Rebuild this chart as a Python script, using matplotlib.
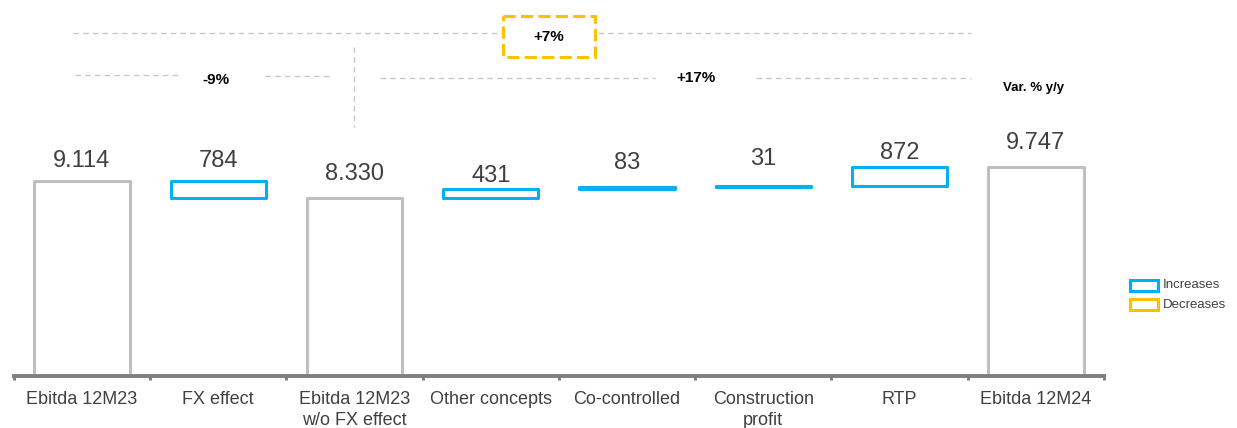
import matplotlib
matplotlib.use("Agg")
import matplotlib.pyplot as plt
from matplotlib.patches import Rectangle

# ---------------- data ----------------
categories = ["Ebitda 12M23", "FX effect", "Ebitda 12M23\nw/o FX effect", "Other concepts",
              "Co-controlled", "Construction\nprofit", "RTP", "Ebitda 12M24"]
values = [9114, 784, 8330, 431, 83, 31, 872, 9747]
value_labels = ["9.114", "784", "8.330", "431", "83", "31", "872", "9.747"]
kinds = ["total", "down", "total", "up", "up", "up", "up", "total"]
pct_labels = ["-9%", "+7%", "+17%"]
legend_labels = ["Increases", "Decreases"]

# ---------------- style ----------------
W, H = 1237, 428
BASE_PX = 375.5          # baseline position from top (px)
PX_PER_UNIT = 0.02134    # vertical scale
GRAY = "#bfbfbf"
BLUE = "#00b0f0"
YELLOW = "#ffc000"
TXT = "#404040"
AXC = "#7f7f7f"
DASH = "#c8c8c8"
label_offset_px = [20, 20.5, 24, 13, 24, 27, 14, 24]
FONT = ["Liberation Sans", "DejaVu Sans"]
plt.rcParams["font.family"] = FONT

fig = plt.figure(figsize=(W / 100, H / 100), dpi=100)
left_px, right_px = 13.8, 1104.0
ax = fig.add_axes([left_px / W, (H - BASE_PX) / H, (right_px - left_px) / W, BASE_PX / H])
ax.set_xlim(-0.5, len(categories) - 0.5)
ax.set_ylim(0, BASE_PX / PX_PER_UNIT)
ax.patch.set_alpha(0)

# waterfall bottoms / tops
bottoms, heights, colors = [], [], []
running = 0
for v, k in zip(values, kinds):
    if k == "total":
        bottoms.append(0); heights.append(v); colors.append(GRAY)
        running = v
    elif k == "down":
        bottoms.append(running - v); heights.append(v); colors.append(BLUE)
        running = running - v
    else:
        bottoms.append(running); heights.append(v); colors.append(BLUE)
        running = running + v

x = list(range(len(categories)))
bars = ax.bar(x, heights, bottom=bottoms, width=0.70, facecolor="white",
              edgecolor=colors, linewidth=2.2, zorder=2)
for b in bars:
    b.set_joinstyle("round")

for xi, b, h, lab, off in zip(x, bottoms, heights, value_labels, label_offset_px):
    ax.text(xi, b + h + off / PX_PER_UNIT, lab, ha="center", va="center",
            fontsize=17, color=TXT)

# axis styling
for s in ["top", "left", "right"]:
    ax.spines[s].set_visible(False)
ax.spines["bottom"].set_color(AXC)
ax.spines["bottom"].set_linewidth(2.8)
ax.spines["bottom"].set_zorder(3)
ax.set_yticks([])
bounds = [i - 0.5 for i in range(len(categories) + 1)]
ax.set_xticks(bounds)
ax.set_xticklabels([""] * len(bounds))
ax.tick_params(axis="x", which="major", length=3, width=2.2, color=AXC, direction="out")
ax.set_xticks(x, minor=True)
ax.set_xticklabels(categories, minor=True, fontsize=13, color=TXT, linespacing=1.3)
ax.tick_params(axis="x", which="minor", length=0, pad=11)

# ---------------- overlay (annotations) ----------------
ov = fig.add_axes([0, 0, 1, 1], zorder=5)
ov.set_xlim(0, W)
ov.set_ylim(H, 0)
ov.axis("off")
ov.patch.set_alpha(0)

dash = dict(color=DASH, linewidth=1.0, linestyle=(0, (4, 3)))
ov.plot([73, 971], [33, 33], **dash)
ov.plot([75, 182], [75, 75], **dash)
ov.plot([265, 330], [76, 76], **dash)
ov.plot([380, 655], [78, 78], **dash)
ov.plot([756, 971], [78, 78], **dash)
# vertical divider above the "w/o FX effect" bar
xc = ax.transData.transform((2, 0))[0]
ov.plot([xc, xc], [47, 127], **dash)

ov.add_patch(Rectangle((502.5, 15.5), 92, 41, facecolor="white", edgecolor=YELLOW,
                       linewidth=2.2, linestyle=(0, (4, 1.7)), zorder=3))
ov.text(549, 36.5, pct_labels[1], ha="center", va="center", fontsize=11,
        fontweight="bold", color="black", zorder=4)
ov.text(216, 80, pct_labels[0], ha="center", va="center", fontsize=11,
        fontweight="bold", color="black")
ov.text(696, 78, pct_labels[2], ha="center", va="center", fontsize=11,
        fontweight="bold", color="black")
ov.text(1034, 88, "Var. % y/y", ha="center", va="center", fontsize=9.5,
        fontweight="bold", color="black")

# legend
for i, (lab, col) in enumerate(zip(legend_labels, [BLUE, YELLOW])):
    y0 = 279.5 + i * 19.5
    ov.add_patch(Rectangle((1129.5, y0), 28, 11, facecolor="white", edgecolor=col,
                           linewidth=2.2))
    ov.text(1163, y0 + 5.5, lab, ha="left", va="center", fontsize=9.5, color=TXT)

fig.savefig("out.png", dpi=100)
